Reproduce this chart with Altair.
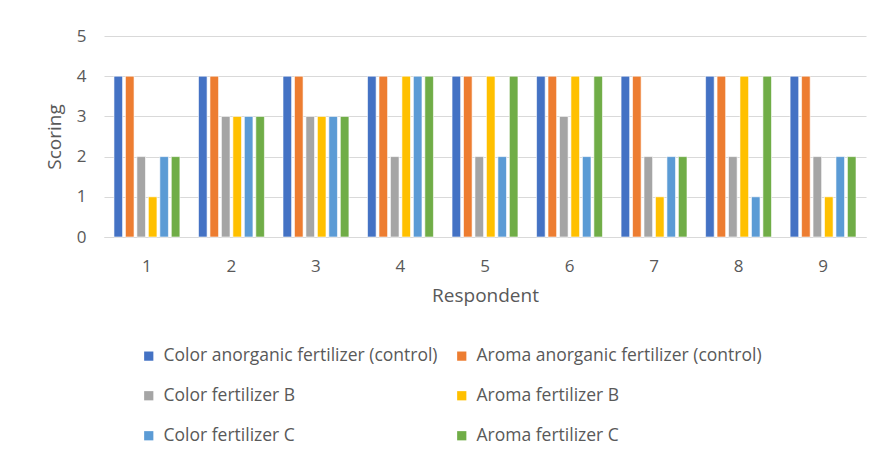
import altair as alt
import pandas as pd

respondents = ["1", "2", "3", "4", "5", "6", "7", "8", "9"]
series = [
    "Color anorganic fertilizer (control)",
    "Aroma anorganic fertilizer (control)",
    "Color fertilizer B",
    "Aroma fertilizer B",
    "Color fertilizer C",
    "Aroma fertilizer C",
]
colors = ["#4472C4", "#ED7D31", "#A5A5A5", "#FFC000", "#5B9BD5", "#70AD47"]

color_anorganic = [4, 4, 4, 4, 4, 4, 4, 4, 4]
aroma_anorganic = [4, 4, 4, 4, 4, 4, 4, 4, 4]
color_b = [2, 3, 3, 2, 2, 3, 2, 2, 2]
aroma_b = [1, 3, 3, 4, 4, 4, 1, 4, 1]
color_c = [2, 3, 3, 4, 2, 2, 2, 1, 2]
aroma_c = [2, 3, 3, 4, 4, 4, 2, 4, 2]

values = [color_anorganic, aroma_anorganic, color_b, aroma_b, color_c, aroma_c]
rows = []
for s, vals in zip(series, values):
    for r, v in zip(respondents, vals):
        rows.append({"Respondent": r, "Series": s, "Scoring": v})
df = pd.DataFrame(rows)

# legend is filled column by column, so order the colour domain to read row-wise
legend_order = [0, 2, 4, 1, 3, 5]
legend_domain = [series[i] for i in legend_order]
legend_range = [colors[i] for i in legend_order]

FONT = "Open Sans"
GREY = "#595959"

chart = (
    alt.Chart(df)
    .mark_bar(stroke="white", strokeWidth=0.6)
    .encode(
        x=alt.X(
            "Respondent:N",
            sort=respondents,
            scale=alt.Scale(paddingInner=0.22, paddingOuter=0.118),
            axis=alt.Axis(
                title="Respondent",
                labelAngle=0,
                labelPadding=21,
                titlePadding=12,
                ticks=False,
                domain=True,
                domainColor="#d9d9d9",
                grid=False,
            ),
        ),
        xOffset=alt.XOffset(
            "Series:N", sort=series, scale=alt.Scale(paddingInner=0.25, paddingOuter=0)
        ),
        y=alt.Y(
            "Scoring:Q",
            scale=alt.Scale(domain=[0, 5], nice=False),
            axis=alt.Axis(
                title="Scoring",
                values=[0, 1, 2, 3, 4, 5],
                format="d",
                labelPadding=18,
                titlePadding=12,
                ticks=False,
                domain=False,
                grid=True,
                gridColor="#d9d9d9",
                gridWidth=1,
            ),
        ),
        color=alt.Color(
            "Series:N",
            scale=alt.Scale(domain=legend_domain, range=legend_range),
            legend=alt.Legend(
                title=None,
                orient="none",
                legendX=36,
                legendY=311,
                columns=2,
                columnPadding=15,
                rowPadding=21,
                symbolType="square",
                symbolSize=85,
                symbolStrokeWidth=0,
                labelOffset=6,
                labelFontSize=17.5,
                labelFont=FONT,
                labelColor=GREY,
                labelLimit=400,
                padding=0,
            ),
        ),
    )
    .properties(
        width=762,
        height=201,
        autosize=alt.AutoSizeParams(type="none"),
        padding={"left": 96, "top": 28, "right": 4, "bottom": 210},
    )
    .configure_view(stroke=None)
    .configure_axis(
        labelFont=FONT,
        labelFontSize=17,
        labelColor=GREY,
        titleFont=FONT,
        titleFontSize=19,
        titleColor=GREY,
        titleFontWeight="normal",
    )
)

chart.save("out.html", embed_options={"renderer": "svg", "actions": False})
